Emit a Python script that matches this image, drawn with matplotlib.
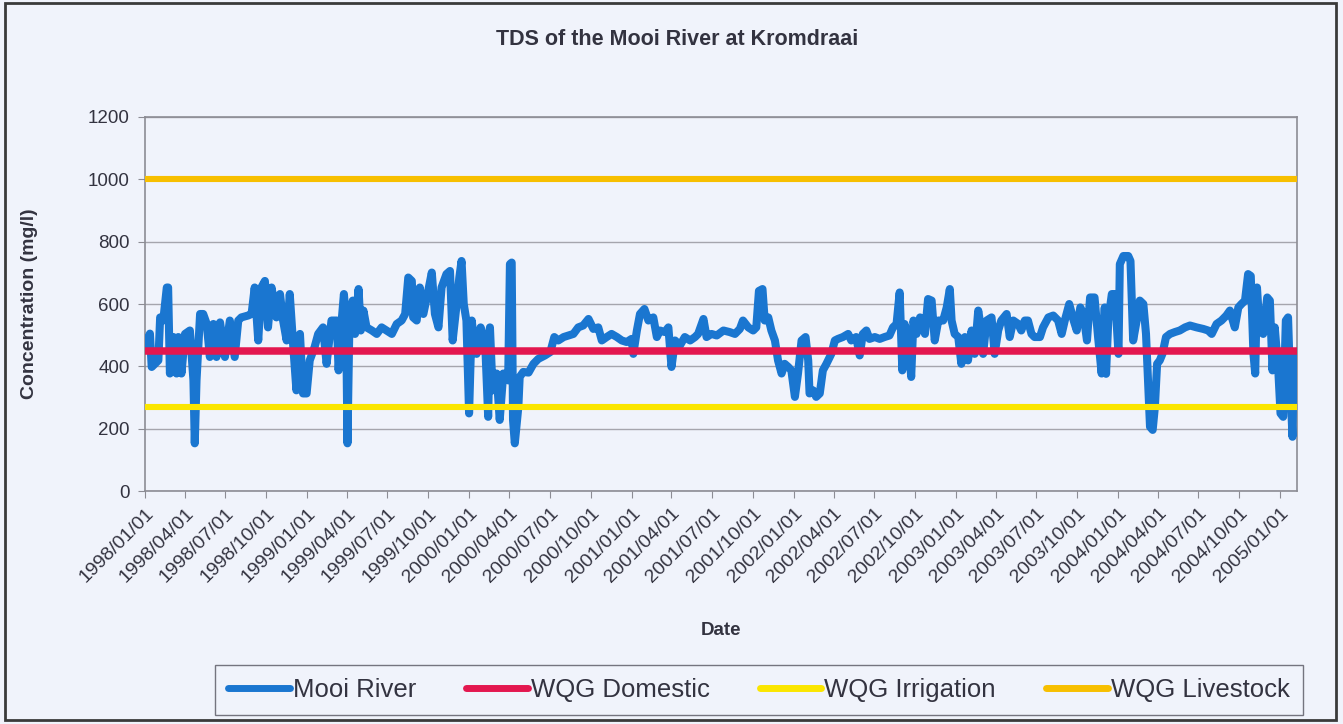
"""TDS of the Mooi River at Kromdraai — re-drawn from the scanned Excel chart"""

import pandas as pd
import matplotlib
matplotlib.use('Agg')
import matplotlib.pyplot as plt
import matplotlib.dates as mdates
from matplotlib.patches import Rectangle

plt.rcParams['font.family'] = ['Liberation Sans', 'DejaVu Sans']

# sample dates and TDS readings (mg/l)
dates = [
    '1998-01-01', '1998-01-12', '1998-01-16', '1998-01-31', '1998-02-04', '1998-02-11',
    '1998-02-19', '1998-02-22', '1998-02-26', '1998-03-06', '1998-03-13', '1998-03-17',
    '1998-03-24', '1998-04-01', '1998-04-12', '1998-04-20', '1998-04-23', '1998-04-27',
    '1998-05-05', '1998-05-12', '1998-05-20', '1998-05-27', '1998-06-04', '1998-06-11',
    '1998-06-19', '1998-06-30', '1998-07-11', '1998-07-22', '1998-07-30', '1998-08-06',
    '1998-08-21', '1998-08-29', '1998-09-05', '1998-09-13', '1998-09-20', '1998-09-28',
    '1998-10-05', '1998-10-13', '1998-10-24', '1998-11-01', '1998-11-08', '1998-11-16',
    '1998-11-23', '1998-12-01', '1998-12-08', '1998-12-16', '1998-12-23', '1998-12-31',
    '1999-01-07', '1999-01-18', '1999-01-26', '1999-02-06', '1999-02-14', '1999-02-25',
    '1999-03-09', '1999-03-13', '1999-03-20', '1999-03-25', '1999-03-30', '1999-04-02',
    '1999-04-06', '1999-04-14', '1999-04-19', '1999-04-27', '1999-05-02', '1999-05-08',
    '1999-05-15', '1999-05-27', '1999-06-07', '1999-06-18', '1999-06-29', '1999-07-11',
    '1999-07-22', '1999-08-02', '1999-08-10', '1999-08-17', '1999-08-25', '1999-08-28',
    '1999-09-05', '1999-09-12', '1999-09-20', '1999-10-01', '1999-10-09', '1999-10-16',
    '1999-10-24', '1999-10-31', '1999-11-11', '1999-11-19', '1999-11-25', '1999-12-04',
    '1999-12-10', '1999-12-15', '1999-12-20', '1999-12-26', '2000-01-01', '2000-01-07',
    '2000-01-12', '2000-01-18', '2000-01-27', '2000-02-06', '2000-02-13', '2000-02-17',
    '2000-02-23', '2000-03-03', '2000-03-10', '2000-03-18', '2000-03-29', '2000-04-02',
    '2000-04-06', '2000-04-09', '2000-04-13', '2000-04-21', '2000-04-24', '2000-05-02',
    '2000-05-14', '2000-05-25', '2000-06-05', '2000-06-20', '2000-07-02', '2000-07-11',
    '2000-07-20', '2000-08-01', '2000-08-12', '2000-08-23', '2000-09-03', '2000-09-14',
    '2000-09-26', '2000-10-07', '2000-10-18', '2000-10-26', '2000-11-06', '2000-11-17',
    '2000-11-29', '2000-12-10', '2000-12-21', '2001-01-01', '2001-01-05', '2001-01-13',
    '2001-01-20', '2001-01-30', '2001-02-08', '2001-02-19', '2001-02-27', '2001-03-06',
    '2001-03-17', '2001-03-25', '2001-04-01', '2001-04-09', '2001-04-20', '2001-05-01',
    '2001-05-13', '2001-05-24', '2001-05-31', '2001-06-12', '2001-06-19', '2001-06-30',
    '2001-07-12', '2001-07-27', '2001-08-10', '2001-08-22', '2001-09-02', '2001-09-09',
    '2001-09-21', '2001-10-02', '2001-10-09', '2001-10-15', '2001-10-23', '2001-10-28',
    '2001-11-05', '2001-11-12', '2001-11-20', '2001-11-27', '2001-12-05', '2001-12-12',
    '2001-12-20', '2001-12-27', '2002-01-04', '2002-01-11', '2002-01-19', '2002-01-28',
    '2002-02-03', '2002-02-06', '2002-02-14', '2002-02-21', '2002-03-01', '2002-03-08',
    '2002-03-16', '2002-03-27', '2002-04-04', '2002-04-11', '2002-04-22', '2002-05-04',
    '2002-05-11', '2002-05-22', '2002-05-30', '2002-06-06', '2002-06-14', '2002-06-21',
    '2002-07-03', '2002-07-14', '2002-07-25', '2002-08-05', '2002-08-13', '2002-08-21',
    '2002-08-28', '2002-09-03', '2002-09-08', '2002-09-16', '2002-09-23', '2002-09-28',
    '2002-10-05', '2002-10-13', '2002-10-24', '2002-10-31', '2002-11-08', '2002-11-15',
    '2002-11-23', '2002-12-04', '2002-12-12', '2002-12-19', '2002-12-23', '2002-12-30',
    '2003-01-07', '2003-01-14', '2003-01-22', '2003-01-29', '2003-02-06', '2003-02-13',
    '2003-02-21', '2003-02-28', '2003-03-04', '2003-03-12', '2003-03-23', '2003-03-30',
    '2003-04-07', '2003-04-14', '2003-04-26', '2003-05-03', '2003-05-11', '2003-05-22',
    '2003-05-29', '2003-06-06', '2003-06-13', '2003-06-21', '2003-06-28', '2003-07-10',
    '2003-07-17', '2003-07-29', '2003-08-09', '2003-08-20', '2003-08-28', '2003-09-04',
    '2003-09-14', '2003-09-24', '2003-10-01', '2003-10-09', '2003-10-16', '2003-10-24',
    '2003-10-31', '2003-11-10', '2003-11-18', '2003-11-26', '2003-12-03', '2003-12-06',
    '2003-12-11', '2003-12-19', '2003-12-26', '2004-01-03', '2004-01-06', '2004-01-14',
    '2004-01-25', '2004-01-30', '2004-02-05', '2004-02-13', '2004-02-20', '2004-02-28',
    '2004-03-05', '2004-03-10', '2004-03-14', '2004-03-20', '2004-03-25', '2004-03-30',
    '2004-04-05', '2004-04-11', '2004-04-19', '2004-04-28', '2004-05-09', '2004-05-20',
    '2004-06-01', '2004-06-12', '2004-06-27', '2004-07-12', '2004-07-23', '2004-07-31',
    '2004-08-11', '2004-08-22', '2004-09-02', '2004-09-10', '2004-09-21', '2004-09-29',
    '2004-10-06', '2004-10-14', '2004-10-21', '2004-10-27', '2004-11-02', '2004-11-06',
    '2004-11-10', '2004-11-16', '2004-11-24', '2004-12-03', '2004-12-09', '2004-12-15',
    '2004-12-20', '2004-12-28', '2005-01-02', '2005-01-08', '2005-01-14', '2005-01-19',
    '2005-01-24', '2005-01-29', '2005-02-01',
]
tds = [
    470, 505, 398, 419, 557, 547,
    653, 653, 377, 494, 377, 494,
    377, 504, 515, 355, 153, 355,
    568, 568, 536, 430, 536, 430,
    541, 430, 547, 430, 547, 557,
    563, 568, 653, 483, 653, 674,
    525, 653, 557, 632, 547, 483,
    632, 462, 323, 504, 313, 313,
    419, 462, 504, 525, 408, 547,
    547, 387, 547, 632, 547, 153,
    504, 611, 504, 648, 515, 579,
    525, 515, 504, 525, 515, 504,
    536, 547, 568, 685, 674, 557,
    547, 653, 568, 643, 701, 568,
    525, 653, 696, 706, 483, 600,
    685, 738, 600, 547, 249, 547,
    483, 440, 525, 483, 238, 525,
    323, 377, 228, 377, 355, 728,
    733, 228, 153, 270, 366, 382,
    380, 408, 424, 435, 446, 494,
    483, 494, 499, 504, 525, 531,
    552, 520, 525, 483, 494, 504,
    494, 483, 478, 488, 440, 515,
    568, 584, 547, 557, 494, 515,
    510, 525, 398, 483, 467, 494,
    483, 494, 504, 552, 494, 504,
    499, 515, 510, 504, 520, 547,
    525, 515, 525, 642, 648, 547,
    557, 515, 483, 419, 377, 408,
    398, 387, 302, 377, 483, 494,
    419, 313, 323, 302, 313, 387,
    408, 440, 483, 488, 494, 504,
    483, 494, 435, 504, 515, 488,
    494, 488, 494, 499, 525, 536,
    637, 387, 536, 494, 366, 547,
    504, 557, 504, 616, 611, 483,
    547, 547, 589, 648, 547, 504,
    494, 408, 494, 419, 515, 440,
    579, 515, 440, 547, 557, 440,
    515, 547, 568, 494, 547, 536,
    515, 547, 547, 504, 494, 494,
    525, 557, 563, 547, 504, 547,
    600, 547, 515, 589, 568, 483,
    621, 621, 494, 377, 589, 376,
    547, 632, 632, 440, 728, 754,
    754, 738, 483, 547, 611, 600,
    504, 334, 206, 196, 270, 408,
    419, 440, 494, 504, 510, 515,
    525, 531, 525, 520, 515, 504,
    536, 547, 563, 579, 525, 589,
    600, 611, 696, 690, 440, 377,
    653, 515, 504, 621, 611, 387,
    525, 387, 249, 238, 547, 557,
    334, 174, 440,
]

guide_labels = ['WQG Domestic', 'WQG Irrigation', 'WQG Livestock']
guide_values = [450, 270, 1000]
guide_colors = ['#e3174f', '#fbe600', '#f7bf00']

bg = '#f0f3fb'
fig = plt.figure(figsize=(13.43, 7.24), dpi=100, facecolor=bg)
ax = fig.add_axes([0.108, 0.3218, 0.8577, 0.5166], facecolor=bg)

t = pd.to_datetime(dates)
ax.plot(t, tds, color='#1a76d0', lw=5.8, solid_joinstyle='round',
        solid_capstyle='round', label='Mooi River', zorder=3)
for lab, v, c in zip(guide_labels, guide_values, guide_colors):
    ax.axhline(v, color=c, lw=5.4 if v == 450 else 4.4, label=lab, zorder=4)

ax.set_ylim(0, 1200)
ax.set_yticks(range(0, 1201, 200))
ax.set_xlim(pd.Timestamp('1998-01-01'), pd.Timestamp('2005-02-08'))
ax.xaxis.set_major_locator(mdates.MonthLocator(bymonth=[1, 4, 7, 10]))
ax.xaxis.set_major_formatter(mdates.DateFormatter('%Y/%m/%d'))
ax.grid(axis='y', color='#a5a5ad', lw=1.0, zorder=0)
ax.set_axisbelow(True)
for s in ax.spines.values():
    s.set_color('#8c8c94')
    s.set_linewidth(1.2)
ax.tick_params(axis='both', direction='out', length=5, color='#8c8c94',
               labelcolor='#333340')
ax.tick_params(axis='y', labelsize=13.5, pad=6)
ax.tick_params(axis='x', labelsize=14, pad=5)
for lbl in ax.get_xticklabels():
    lbl.set_rotation(45)
    lbl.set_ha('right')
    lbl.set_va('top')
    lbl.set_rotation_mode('anchor')

ax.set_xlabel('Date', fontsize=13.5, fontweight='bold', color='#333340', labelpad=26)
ax.set_ylabel('Concentration (mg/l)', fontsize=14, fontweight='bold', color='#333340',
              labelpad=36)
fig.text(0.504, 0.945, 'TDS of the Mooi River at Kromdraai', ha='center', va='center',
         fontsize=15.5, fontweight='bold', color='#333340')

leg = fig.legend(loc='center', bbox_to_anchor=(0.565, 0.047), ncol=4, fontsize=18.5,
                 handlelength=2.4, handletextpad=0.12, columnspacing=1.95,
                 frameon=True, fancybox=False, borderpad=0.5, borderaxespad=0)
leg.get_frame().set_edgecolor('#555560')
leg.get_frame().set_facecolor(bg)
leg.get_frame().set_linewidth(1.0)
for line in leg.get_lines():
    line.set_linewidth(5)
    line.set_solid_capstyle('round')
for txt in leg.get_texts():
    txt.set_color('#333340')

# outer chart border from the scan
fig.patches.append(Rectangle((0.004, 0.006), 0.991, 0.99, transform=fig.transFigure,
                             fill=False, ec='#3a3a3a', lw=2.0))

fig.savefig('out.png', dpi=100, facecolor=bg)
